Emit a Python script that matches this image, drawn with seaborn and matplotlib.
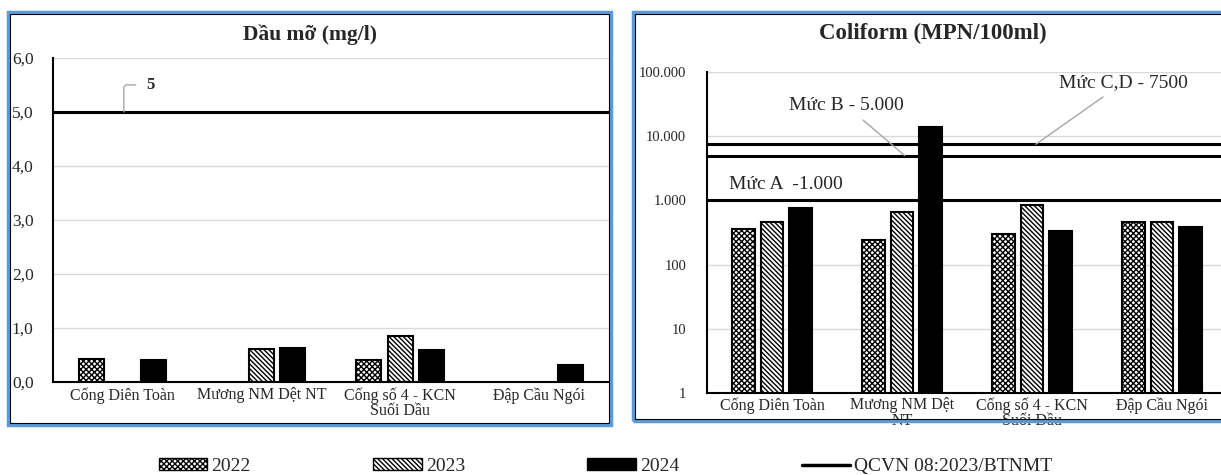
import numpy as np
import pandas as pd
import matplotlib.pyplot as plt
import seaborn as sns
from matplotlib.patches import Patch, Rectangle
from matplotlib.lines import Line2D
from matplotlib.ticker import FuncFormatter, FixedLocator

# Data
sites_oil = ["Cống Diên Toàn", "Mương NM Dệt NT", "Cống số 4 - KCN\nSuối Dầu", "Đập Cầu Ngói"]
sites_coli = ["Cống Diên Toàn", "Mương NM Dệt\nNT", "Cống số 4 - KCN\nSuối Dầu", "Đập Cầu Ngói"]
years = ["2022", "2023", "2024"]
oil_2022 = [0.43, np.nan, 0.40, np.nan]
oil_2023 = [np.nan, 0.61, 0.85, np.nan]
oil_2024 = [0.40, 0.62, 0.59, 0.31]
coli_2022 = [360, 240, 300, 460]
coli_2023 = [460, 670, 850, 460]
coli_2024 = [750, 14000, 330, 390]
oil_limit = 5.0
coli_limits = [1000, 5000, 7500]


def long_df(sites, series):
    rows = []
    for yr, vals in zip(years, series):
        for s, v in zip(sites, vals):
            rows.append({"site": s, "year": yr, "value": v})
    return pd.DataFrame(rows)


df_oil = long_df(sites_oil, [oil_2022, oil_2023, oil_2024])
df_coli = long_df(sites_coli, [coli_2022, coli_2023, coli_2024])

sns.set_style("white")
plt.rcParams["font.family"] = ["Liberation Serif", "DejaVu Serif"]
plt.rcParams["hatch.linewidth"] = 1.0

fig = plt.figure(figsize=(12.21, 4.75), dpi=100)
ax1 = fig.add_axes([0.0434, 0.196, 0.455, 0.682])
ax2 = fig.add_axes([0.579, 0.1726, 0.426, 0.6758])

hatches = ["xxxxxx", "\\\\\\\\\\\\\\", ""]
faces = ["white", "white", "black"]


def style_bars(ax):
    for cont, h, fc in zip(ax.containers, hatches, faces):
        for bar in cont:
            bar.set_facecolor(fc)
            bar.set_edgecolor("black")
            bar.set_hatch(h)
            bar.set_linewidth(1.5)


def style_axes(ax):
    for side in ["top", "right"]:
        ax.spines[side].set_visible(False)
    for side in ["left", "bottom"]:
        ax.spines[side].set_linewidth(1.5)
        ax.spines[side].set_color("black")
    ax.yaxis.grid(True, color="#d9d9d9", linewidth=1)
    ax.set_axisbelow(True)
    ax.set_xlabel("")
    ax.set_ylabel("")
    ax.tick_params(axis="both", length=0)
    ax.tick_params(axis="x", labelsize=11.5, pad=4)
    for lbl in ax.get_xticklabels():
        lbl.set_linespacing(0.95)


# Left chart: oil
sns.barplot(data=df_oil, x="site", y="value", hue="year", hue_order=years,
            ax=ax1, errorbar=None, width=0.675, gap=0.2, legend=False)
style_bars(ax1)
style_axes(ax1)
ax1.set_xlim(-0.5, 3.5)
ax1.set_ylim(0, 6)
ax1.yaxis.set_major_locator(FixedLocator(np.arange(0, 6.1, 1)))
ax1.yaxis.set_major_formatter(FuncFormatter(lambda v, p: f"{v:.1f}".replace(".", ",")))
ax1.tick_params(axis="y", pad=14, labelsize=12.5)
ax1.axhline(oil_limit, color="black", linewidth=2.2)
ax1.annotate("5", xy=(0.01, oil_limit), xytext=(0.17, 5.5), fontsize=12, fontweight="bold",
             va="center", ha="left",
             arrowprops=dict(arrowstyle="-", color="#a6a6a6", lw=1,
                             connectionstyle="angle,angleA=0,angleB=90,rad=3",
                             shrinkA=5, shrinkB=0))

# Right chart: coliform
sns.barplot(data=df_coli, x="site", y="value", hue="year", hue_order=years,
            ax=ax2, errorbar=None, width=0.655, gap=0.2, legend=False)
style_bars(ax2)
style_axes(ax2)
ax2.set_yscale("log")
ax2.set_xlim(-0.5, 3.5)
ax2.set_ylim(1, 100000)
ax2.yaxis.set_major_locator(FixedLocator([1, 10, 100, 1000, 10000, 100000]))
ax2.yaxis.set_minor_locator(FixedLocator([]))
ax2.yaxis.set_major_formatter(FuncFormatter(lambda v, p: f"{int(round(v)):,}".replace(",", ".")))
ax2.tick_params(axis="y", pad=15, labelsize=10.5)
ax2.tick_params(axis="x", pad=3)
for lim in coli_limits:
    ax2.axhline(lim, color="black", linewidth=2.2)
ax2.text(-0.33, 1800, "Mức A  -1.000", fontsize=14, ha="left", va="center")
ax2.annotate("Mức B - 5.000", xy=(1.02, 5000), xytext=(0.57, 30000), fontsize=14,
             ha="center", va="center",
             arrowprops=dict(arrowstyle="-", color="#a6a6a6", lw=1, shrinkA=3, shrinkB=0))
ax2.annotate("Mức C,D - 7500", xy=(2.03, 7500), xytext=(2.7, 68000), fontsize=14,
             ha="center", va="center",
             arrowprops=dict(arrowstyle="-", color="#a6a6a6", lw=1, shrinkA=3, shrinkB=0))

# Titles
fig.text(0.254, 0.926, "Dầu mỡ (mg/l)", ha="center", va="center", fontsize=15.5, fontweight="bold")
fig.text(0.764, 0.93, "Coliform (MPN/100ml)", ha="center", va="center", fontsize=16.5, fontweight="bold")

# Panel borders
for x0, y0, w, h in [(0.0066, 0.105, 0.494, 0.869), (0.5184, 0.1137, 0.49, 0.861)]:
    fig.patches.append(Rectangle((x0, y0), w, h, transform=fig.transFigure, fill=False,
                                 edgecolor="#5b9bd5", linewidth=2.5))
    fig.patches.append(Rectangle((x0 + 0.0015, y0 + 0.004), w - 0.003, h - 0.008,
                                 transform=fig.transFigure, fill=False,
                                 edgecolor="black", linewidth=0.8))

# Shared legend
handles = [Patch(facecolor="white", edgecolor="black", hatch=hatches[0]),
           Patch(facecolor="white", edgecolor="black", hatch=hatches[1]),
           Patch(facecolor="black", edgecolor="black"),
           Line2D([0], [0], color="black", linewidth=2.5)]
labels = years + ["QCVN 08:2023/BTNMT"]
fig.legend(handles, labels, loc="center", bbox_to_anchor=(0.496, 0.018), ncol=4,
           frameon=False, fontsize=14, handlelength=2.5, handleheight=0.55,
           handletextpad=0.2, columnspacing=6.3)

plt.savefig("out.png", dpi=100)
